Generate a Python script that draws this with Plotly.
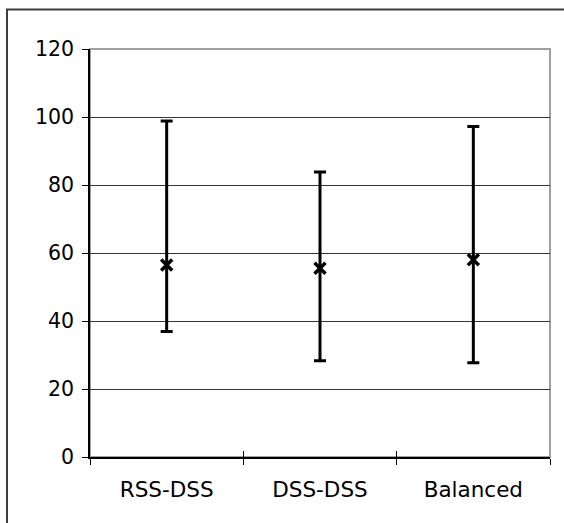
import plotly.graph_objects as go

categories = ["RSS-DSS", "DSS-DSS", "Balanced"]
mean_vals = [56.5, 55.5, 58.0]
high_vals = [98.8, 83.8, 97.2]
low_vals = [36.9, 28.3, 27.7]
y_ticks = [0, 20, 40, 60, 80, 100, 120]

err_plus = [h - m for h, m in zip(high_vals, mean_vals)]
err_minus = [m - l for m, l in zip(mean_vals, low_vals)]

FONT = dict(family="DejaVu Sans, Verdana, sans-serif", size=20.5, color="#000000")
XFONT = dict(family="DejaVu Sans, Verdana, sans-serif", size=21.5, color="#000000")

fig = go.Figure()
fig.add_trace(go.Scatter(
    x=categories, y=mean_vals, mode="markers",
    marker=dict(symbol="x-thin", size=11, color="#000000",
                line=dict(width=3.5, color="#000000")),
    error_y=dict(type="data", symmetric=False, array=err_plus, arrayminus=err_minus,
                 color="#000000", thickness=3, width=6),
    showlegend=False, hoverinfo="skip",
))
# invisible helper trace for the inside half of the crossing category ticks
fig.add_trace(go.Scatter(
    x=categories, y=mean_vals, mode="markers", xaxis="x2",
    marker=dict(opacity=0), showlegend=False, hoverinfo="skip",
))

fig.update_layout(
    width=564, height=523,
    margin=dict(l=90, r=14, t=49, b=66),
    paper_bgcolor="#ffffff", plot_bgcolor="#ffffff",
    font=FONT,
    xaxis=dict(
        type="category", categoryorder="array", categoryarray=categories,
        range=[-0.5, 2.5], tickson="boundaries", ticks="outside", ticklen=6,
        tickcolor="#000000", tickwidth=1, showline=True, linecolor="#000000",
        linewidth=1.5, showgrid=False, zeroline=False, tickfont=XFONT,
        ticklabelstandoff=12,
    ),
    xaxis2=dict(
        type="category", categoryorder="array", categoryarray=categories,
        overlaying="x", matches="x", anchor="y", side="bottom",
        range=[-0.5, 2.5], tickson="boundaries", ticks="inside", ticklen=6,
        tickcolor="#000000", tickwidth=1, showticklabels=False,
        showline=False, showgrid=False, zeroline=False,
    ),
    yaxis=dict(
        range=[0, 120], tickvals=y_ticks, ticks="outside", ticklen=6,
        tickcolor="#000000", tickwidth=1, showline=True, linecolor="#000000",
        linewidth=1.5, showgrid=True, gridcolor="#333333", gridwidth=1,
        zeroline=False, tickfont=FONT, ticklabelstandoff=4,
    ),
    shapes=[
        # plot area frame (gray top/right)
        dict(type="rect", xref="paper", yref="paper", x0=0, y0=0, x1=1, y1=1,
             line=dict(color="#a0a0a0", width=2), layer="below"),
        # outer chart border
        dict(type="rect", xref="paper", yref="paper",
             x0=-0.1804, y0=-0.25, x1=1.2, y1=1.0968,
             line=dict(color="#3c3c3c", width=2), layer="above"),
    ],
)

fig.write_html("out.html", config={"displayModeBar": False},
               post_script="document.body.style.margin='0';")
